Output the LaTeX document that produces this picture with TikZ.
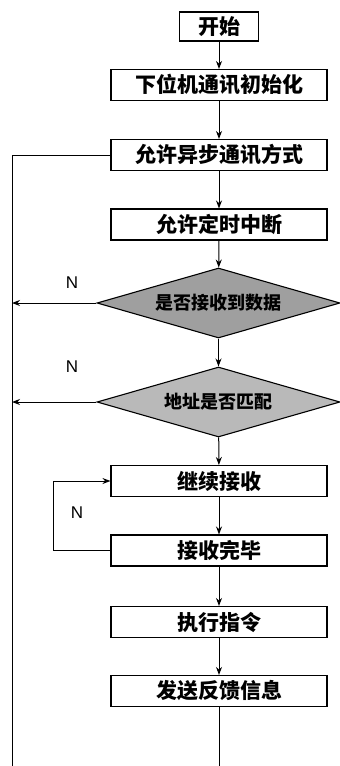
\documentclass[tikz,border=0pt]{standalone}
\usepackage{fontspec}
\newfontfamily\cjk{Noto Sans CJK SC}
\newfontfamily\lab{Liberation Sans}
\usetikzlibrary{shapes.geometric,arrows.meta}
\begin{document}
\begin{tikzpicture}[x=1pt,y=-1pt,
  box/.style={draw, line width=1.1pt, fill=white, minimum width=216pt, minimum height=31pt, inner sep=0pt, font=\cjk\bfseries\fontsize{21}{21}\selectfont},
  dec/.style={diamond, draw, line width=1.1pt, minimum width=243pt, minimum height=70pt, inner sep=0pt, aspect=3.5, font=\cjk\bfseries\fontsize{18}{18}\selectfont},
  arr/.style={-{Stealth[length=8pt,width=6pt]}, line width=1pt},
  ln/.style={line width=1pt},
  nlab/.style={font=\lab\fontsize{17}{17}\selectfont}]
\useasboundingbox (0,0) rectangle (340,766);
\node[box, minimum width=79pt, minimum height=29pt] (start) at (219,26.5) {开始};
\node[box] (init) at (219,85) {下位机通讯初始化};
\node[box] (async) at (219,155) {允许异步通讯方式};
\node[box] (timer) at (219,224.5) {允许定时中断};
\node[dec, fill=gray!75] (d1) at (218.5,303) {是否接收到数据};
\node[dec, fill=gray!55] (d2) at (218.5,402) {地址是否匹配};
\node[box] (recv) at (219,481) {继续接收};
\node[box] (done) at (219,550.5) {接收完毕};
\node[box] (exec) at (219,622) {执行指令};
\node[box] (send) at (219,691) {发送反馈信息};
\draw[arr] (start) -- (init);
\draw[arr] (init) -- (async);
\draw[arr] (async) -- (timer);
\draw[arr] (timer) -- (d1);
\draw[arr] (d1) -- (d2);
\draw[arr] (d2) -- (recv);
\draw[arr] (recv) -- (done);
\draw[arr] (done) -- (exec);
\draw[arr] (exec) -- (send);
\coordinate (tl) at (12,155);
\coordinate (bl) at (12,766);
\coordinate (bm) at (219,766);
\coordinate (n1) at (12,303);
\coordinate (n2) at (12,402);
\coordinate (lp) at (53,550.5);
\draw[ln] (async.west) -- (tl) -- (bl);
\draw[ln] (send) -- (bm);
\draw[arr] (d1.west) -- (n1);
\draw[arr] (d2.west) -- (n2);
\draw[arr] (done.west) -- (lp) |- (recv.west);
\node[nlab] (na) at (72,283) {N};
\node[nlab] (nb) at (72,367) {N};
\node[nlab] (nc) at (77,513) {N};
\end{tikzpicture}
\end{document}
